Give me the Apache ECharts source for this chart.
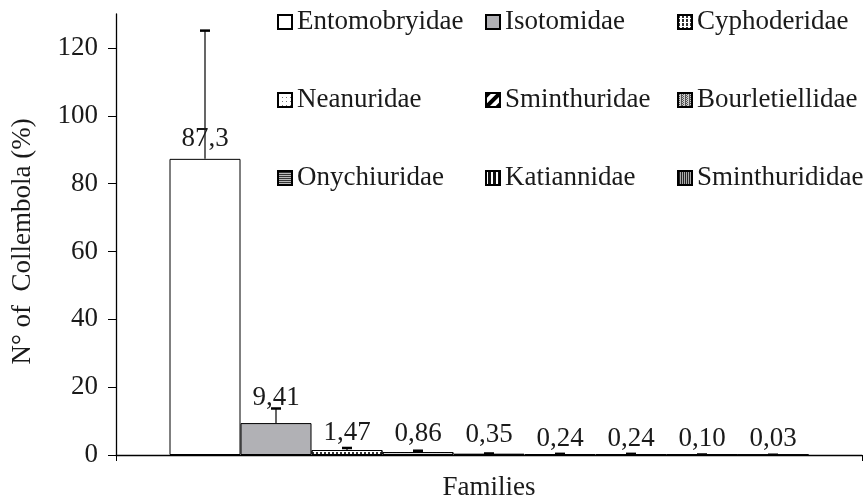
<!DOCTYPE html>
<html>
<head>
<meta charset="utf-8">
<script src="https://cdn.jsdelivr.net/npm/echarts@6/dist/echarts.min.js"></script>
<style>html,body{margin:0;padding:0;background:#fff}#c{width:865px;height:498px}</style>
</head>
<body>
<div id="c"></div>
<script>
const families = ['Entomobryidae','Isotomidae','Cyphoderidae','Neanuridae','Sminthuridae','Bourletiellidae','Onychiuridae','Katiannidae','Sminthurididae'];
const means = [87.3, 9.41, 1.47, 0.86, 0.35, 0.24, 0.24, 0.10, 0.03];
const errors = [37.8, 4.3, 0.6, 0.4, 0.1, 0.1, 0.1, 0.05, 0.05];
const valueLabels = ['87,3','9,41','1,47','0,86','0,35','0,24','0,24','0,10','0,03'];
const yTicks = [0, 20, 40, 60, 80, 100, 120];
const xCategory = ['Families'];

const FONT = 'Liberation Serif';
const FS = 27;
const BAR_W = 71;
const labelDist = [6, 12, 4, 5, 5, 2, 2, 2, 2];
const styles = [
  {color:'#ffffff'},
  {color:'#b1b1b5'},
  {color:'#ffffff', decal:{symbol:'rect', symbolSize:1, color:'#333', dashArrayX:[2,2], dashArrayY:[3,1]}},
  {color:'#ffffff', decal:{symbol:'rect', symbolSize:1, color:'#777', dashArrayX:[[1,3]], dashArrayY:[1,3]}},
  {color:'#ffffff', decal:{symbol:'rect', symbolSize:1, color:'#000', dashArrayX:[1,0], dashArrayY:[4,4], rotation:-Math.PI/4}},
  {color:'#555555', decal:{symbol:'rect', symbolSize:1, color:'#ccc', dashArrayX:[[1,1],[0,1,1]], dashArrayY:[1,0]}},
  {color:'#333333', decal:{symbol:'rect', symbolSize:1, color:'#bbb', dashArrayX:[1,0], dashArrayY:[1,1]}},
  {color:'#111111', decal:{symbol:'rect', symbolSize:1, color:'#fff', dashArrayX:[2,3], dashArrayY:[1,0]}},
  {color:'#222222', decal:{symbol:'rect', symbolSize:1, color:'#aaa', dashArrayX:[1,1], dashArrayY:[1,0]}}
];

const barSeries = families.map((name, i) => ({
  type: 'bar',
  name: name,
  data: [means[i]],
  barWidth: BAR_W,
  barGap: '0%',
  itemStyle: Object.assign({borderColor:'#000', borderWidth:1}, styles[i]),
  label: {
    show: true, position: 'top', distance: labelDist[i],
    formatter: valueLabels[i],
    fontFamily: FONT, fontSize: FS, color: '#1a1a1a'
  },
  emphasis: {disabled: true}
}));

const errSeries = {
  type: 'custom',
  name: 'err',
  data: means.map((m, i) => [0, m, errors[i], i]),
  encode: {x: 0, y: 1},
  z: 1,
  renderItem: function (params, api) {
    const v = api.value(1), e = api.value(2), i = api.value(3);
    const base = api.coord([0, v]);
    const top = api.coord([0, v + e]);
    const x = base[0] + (i - 4) * BAR_W;
    return {
      type: 'group',
      children: [
        {type:'line', shape:{x1:x, y1:base[1], x2:x, y2:top[1]}, style:{stroke:'#000', lineWidth:1.2}},
        {type:'line', shape:{x1:x-5, y1:top[1], x2:x+5, y2:top[1]}, style:{stroke:'#000', lineWidth:2.5}}
      ]
    };
  }
};

function legendCol(left, idxs) {
  return {
    orient: 'vertical', left: left, top: 3,
    itemWidth: 14, itemHeight: 14, itemGap: 50,
    icon: 'rect',
    selectedMode: false,
    itemStyle: {borderColor:'#000', borderWidth:2},
    textStyle: {fontFamily: FONT, fontSize: FS, color:'#1a1a1a', lineHeight: 28},
    data: idxs.map(i => families[i])
  };
}

const chart = echarts.init(document.getElementById('c'), null, {renderer:'canvas'});
chart.setOption({
  animation: false,
  backgroundColor: '#fff',
  grid: {left: 116, right: 3, top: 14, bottom: 43, outerBoundsMode: 'none', containLabel: false},
  legend: [legendCol(272, [0,3,6]), legendCol(480, [1,4,7]), legendCol(672, [2,5,8])],
  xAxis: {
    type: 'category', data: xCategory,
    name: 'Families', nameLocation: 'middle', nameGap: 19,
    nameTextStyle: {fontFamily: FONT, fontSize: FS, color:'#1a1a1a'},
    axisLine: {lineStyle: {color:'#000', width:1.3}},
    axisTick: {show: true, length: 6, lineStyle: {color:'#000'}},
    axisLabel: {show: false},
    splitLine: {show: false}
  },
  yAxis: {
    type: 'value', min: 0, max: 130, interval: 10,
    name: 'N° of  Collembola (%)', nameLocation: 'middle', nameGap: 80,
    nameTextStyle: {fontFamily: FONT, fontSize: FS, color:'#1a1a1a', padding: [0, 14, 0, 0]},
    axisLine: {show: true, lineStyle: {color:'#000', width:1.3}},
    axisTick: {show: true, length: 8, customValues: yTicks, lineStyle: {color:'#000'}},
    axisLabel: {customValues: yTicks, margin: 18, fontFamily: FONT, fontSize: FS, color:'#1a1a1a'},
    splitLine: {show: false}
  },
  series: barSeries.concat([errSeries])
});
</script>
</body>
</html>
